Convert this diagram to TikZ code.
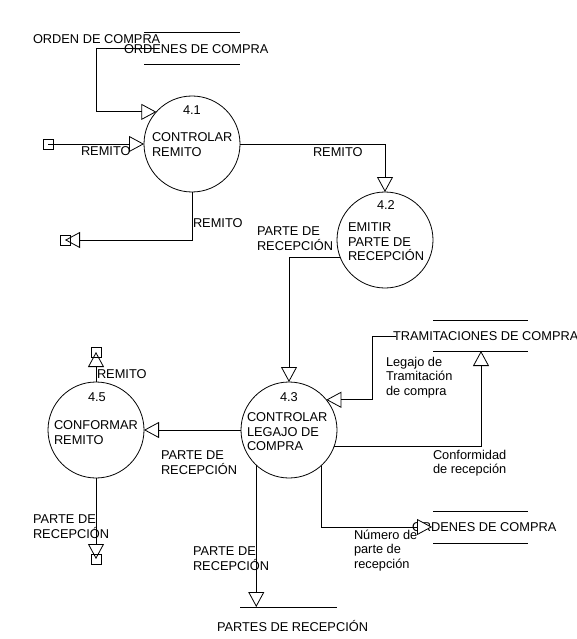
\documentclass[tikz,border=0pt]{standalone}
\usepackage{fontspec}
\setmainfont{Liberation Sans}
\usetikzlibrary{arrows.meta, positioning}
\tikzset{
  x=1pt, y=-1pt,
  every node/.style={font=\fontsize{12.8}{14.5}\selectfont, inner sep=0pt, outer sep=0pt},
  proc/.style={draw, circle, minimum size=96pt, line width=0.8pt},
  txt/.style={anchor=north west, align=left},
  ext/.style={draw, rectangle, minimum size=10pt, line width=0.8pt},
  flow/.style={-{Triangle[open, length=15pt, width=16pt]}, line width=0.8pt},
  flowfill/.style={-{Triangle[length=15pt, width=16pt, fill=white]}, line width=0.8pt},
  storeline/.style={line width=0.8pt}
}

\begin{document}
\begin{tikzpicture}
  \useasboundingbox (0,0) rectangle (577,639);

  % processes
  \node[proc] (p41) at (192,144) {};
  \node[proc] (p42) at (385,240) {};
  \node[proc] (p43) at (289,430) {};
  \node[proc] (p45) at (96,430) {};
  \node[txt] (n41) at (183,106) {4.1};
  \node[txt] (t41) at (152,133) {CONTROLAR\\REMITO};
  \node[txt] (n42) at (377,201) {4.2};
  \node[txt] (t42) at (348,223) {EMITIR\\PARTE DE\\RECEPCIÓN};
  \node[txt] (n43) at (280,393) {4.3};
  \node[txt] (t43) at (247,413) {CONTROLAR\\LEGAJO DE\\COMPRA};
  \node[txt] (n45) at (88,393) {4.5};
  \node[txt] (t45) at (54,421) {CONFORMAR\\REMITO};

  % stores
  \draw[storeline] (144,32) -- (240,32) (144,64) -- (240,64);
  \node[txt] (st1) at (124,45) {ORDENES DE COMPRA};
  \draw[storeline] (433,320) -- (528,320) (433,351) -- (528,351);
  \node[txt] (st2) at (393,332) {TRAMITACIONES DE COMPRA};
  \draw[storeline] (433,511) -- (528,511) (433,543) -- (528,543);
  \node[txt] (st3) at (412,523) {ORDENES DE COMPRA};
  \draw[storeline] (240,607) -- (337,607);
  \node[txt] (st4) at (217,620) {PARTES DE RECEPCIÓN};
  \coordinate (ocin) at (157,48);
  \coordinate (tin) at (396,336);
  \coordinate (tout) at (481,351);
  \coordinate (oc2in) at (432,527);
  \coordinate (prin) at (256,607);

  % externals
  \node[ext] (src1) at (48,144) {};
  \node[ext] (snk1) at (65,240) {};
  \node[ext] (snk2) at (96,352) {};
  \node[ext] (snk3) at (96,559) {};

  % flows
  \draw[flow] (ocin) -- ++(-61,0) |- (p41.138);
  \draw[flow] (src1.center) -- (p41.west);
  \draw[flow] (p41.east) -| (p42.north);
  \draw[flow] (p41.south) |- (snk1.center);
  \draw[flow] (p42.201) -| (p43.north);
  \draw[flow] (tin) -- ++(-24,0) |- (p43.39);
  \draw[flow] (p43.-20) -| (tout);
  \draw[flowfill] (p43.-48) |- (oc2in);
  \draw[flow] (p43.-133) -- (p43.-133 |- prin);
  \draw[flow] (p43.west) -- (p45.east);
  \draw[flow] (p45.north) -- (snk2.center);
  \draw[flow] (p45.south) -- (snk3.center);

  % flow labels
  \node[txt] (lord) at (33,35) {ORDEN DE COMPRA};
  \node[txt] (lrem1) at (81,147) {REMITO};
  \node[txt] (lrem2) at (313,148) {REMITO};
  \node[txt] (lrem3) at (193,219) {REMITO};
  \node[txt] (lpar1) at (257,227) {PARTE DE\\RECEPCIÓN};
  \node[txt] (lleg) at (386,357) {Legajo de\\Tramitación\\de compra};
  \node[txt] (lconf) at (433,450) {Conformidad\\de recepción};
  \node[txt] (lnum) at (354,530) {Número de\\parte de\\recepción};
  \node[txt] (lpar2) at (161,451) {PARTE DE\\RECEPCIÓN};
  \node[txt] (lpar3) at (33,515) {PARTE DE\\RECEPCIÓN};
  \node[txt] (lpar4) at (193,547) {PARTE DE\\RECEPCIÓN};
  \node[txt] (lrem4) at (97,370) {REMITO};
\end{tikzpicture}
\end{document}
